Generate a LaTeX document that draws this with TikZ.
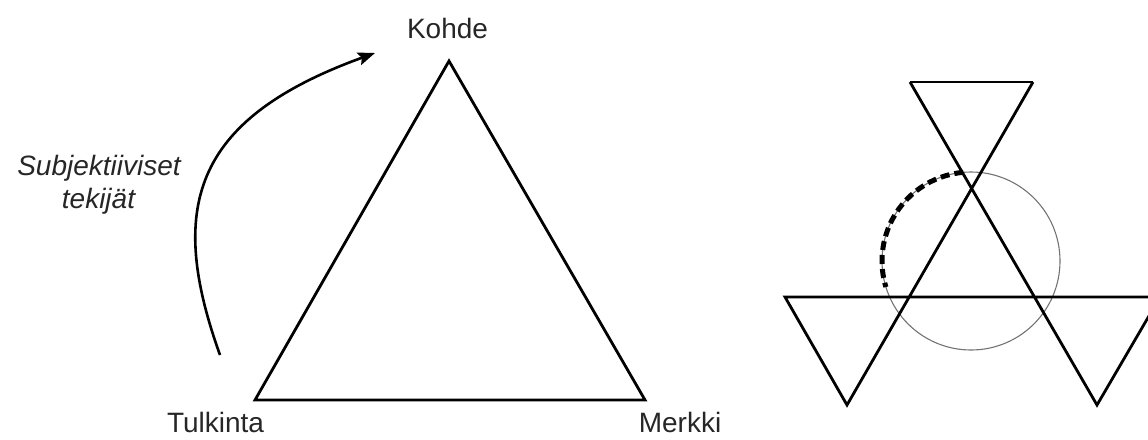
\documentclass[tikz,border=0pt]{standalone}
\usepackage{fontspec}
\setmainfont{Liberation Sans}
\usetikzlibrary{arrows.meta}
\begin{document}
\begin{tikzpicture}[x=1pt,y=-1pt,
  edge/.style={line width=2.8pt,line join=miter},
  lbl/.style={font=\fontsize{28}{33}\selectfont,inner sep=0pt,anchor=base,text=black!85},
  ring/.style={line width=1.1pt,draw=black!55},
  dashring/.style={line width=5pt,dash pattern=on 9pt off 5pt},
  curvedarrow/.style={line width=2.6pt,-{Stealth[length=17pt,width=13pt,inset=3pt]}}]
\useasboundingbox (0,0) rectangle (1148,439);
% left triangle
\coordinate (K) at (449,61);
\coordinate (T) at (255,400);
\coordinate (M) at (645,400);
\draw[edge] (K) -- (T) -- (M) -- cycle;
\node[lbl] (kohde) at (447.5,38) {Kohde};
\node[lbl] (tulkinta) at (215.5,432) {Tulkinta};
\node[lbl] (merkki) at (680,432) {Merkki};
\node[lbl,font=\fontsize{28}{33}\selectfont\itshape] (subj1) at (99,175) {Subjektiiviset};
\node[lbl,font=\fontsize{28}{33}\selectfont\itshape] (subj2) at (98.5,208) {tekijät};
% curved arrow
\coordinate (a0) at (220,355);
\coordinate (a1) at (375,53);
\draw[curvedarrow] (a0) .. controls (168,210) and (190,120) .. (a1);
% right figure
\coordinate (C) at (971,261);
\draw[ring] (C) circle (89);
\draw[dashring] (C) ++(265:89) arc (265:163:89);
\coordinate (TL) at (910,82);
\coordinate (TR) at (1033,82);
\coordinate (BL) at (847,405);
\coordinate (BR) at (1097,405);
\coordinate (HL) at (785,297);
\coordinate (HR) at (1160,297);
\begin{scope}
\clip (0,0) rectangle (1148,439);
\draw[edge] (TL) -- (TR);
\draw[edge] (TL) -- (BR) -- (HR) -- (HL) -- (BL) -- (TR);
\end{scope}
\end{tikzpicture}
\end{document}
